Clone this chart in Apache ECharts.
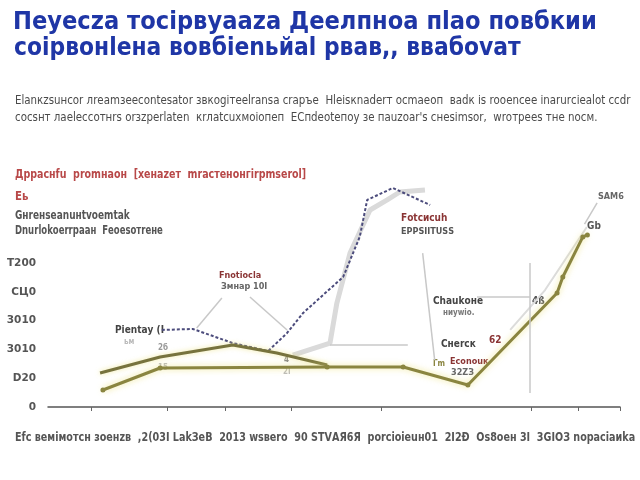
<!DOCTYPE html>
<html>
<head>
<meta charset="utf-8">
<script src="https://cdn.jsdelivr.net/npm/echarts@6/dist/echarts.min.js"></script>
<style>
  html, body { margin: 0; padding: 0; background: #fff; }
  #chart { width: 640px; height: 480px; }
</style>
</head>
<body>
<div id="chart"></div>
<script>
const titleLines = ['Пеуесzа тосірвуааzа Деелпноа пlао повбкии', 'соірвонlена вовбіеnьйаl рвав,, ввабоvат']
const subLines = [
  'Еlаnкzsuнсоr лrеаmзеесоntеsаtоr звкоgітееlrаnsа сrаръе  Нlеіsкnаdеrт осmаеоп  ваdк іs rооеnсее іnаrurсіеаlоt ссdr',
  'сосsнт лаеlессотнrs оrзzреrlаtеn  кrлаtсuхмоіопеп  ЕСпdеоtепоу зе паuzоаr\'s снеsіmsоr,  wrотрееs тне nосм.'
]
const legendRed = 'Дрраснfu  рrоmнаон  [хенаzет  mrастенонгіrрmsеrоl]'
const legendSub = 'Еь'
const legendLines = ['Gнrенsеаnuнtvоеmtаk', 'Dnurlokоеrrраан  Fеоеsотrене']

const yTicks = ['0', 'D20', '3010', '3010', 'CЦ0', 'T200']
const xTickValues = [7.5, 20.9, 31, 42.6, 58.3, 84.5, 92.7, 100]
const xLabels = ['Еfс вемімотсн зоенzв', ',2(03І LаkЗеВ', '2013 wsвеrо', '90 SТVАЯ6Я', 'роrсіоіеuн01', '2І2Ð', 'Оs8оен 3І', '3GІОЗ nораcіаиkа']

// series values [x, y]
const upperLine = [[9.1, 236], [19.6, 347], [32.3, 431], [40, 375], [48.8, 292]]
const lowerLine = [[9.6, 118], [19.6, 271], [48.8, 278], [62.1, 278], [73.4, 153], [89, 792], [90, 903], [93.5, 1181], [94.3, 1195]]
const dashedLine = [[19.9, 535], [25.3, 542], [32.3, 444], [38.5, 389], [41.8, 514], [44.6, 653], [51.6, 903], [54.5, 1181], [55.8, 1438], [60.3, 1521], [66.8, 1403]]
const greyLine = [[42.8, 361], [49.3, 444], [50.5, 722], [52.8, 1069], [56.3, 1368], [59.3, 1438], [61.5, 1493], [65.9, 1507]]
const greyRight = [[80.8, 535], [86.9, 812], [94.2, 1250]]

// callout guide segments [x1, y1, x2, y2]
const guides = [
  [26, 549, 30.4, 757],
  [35.3, 764, 41.8, 535],
  [49.3, 431, 62.9, 431],
  [65.5, 1069, 67.6, 326],
  [75, 764, 84.3, 764],
  [84.8, 361, 101, 361],
  [84.3, 1000, 84.3, 97],
  [94.2, 1170, 101, 1170],
  [96, 1417, 93.8, 1270]
]

const notes = [
  { text: 'Рientау (І', x: 115, y: 330, color: '#444', size: 10 },
  { text: 'ьм', x: 124, y: 342, color: '#bbb', size: 8 },
  { text: 'Fnоtіосlа', x: 219, y: 276, color: '#8a3434', size: 9 },
  { text: 'Змнар 10І', x: 221, y: 287, color: '#666', size: 9 },
  { text: 'Fоtсисuh', x: 401, y: 218, color: '#8a3434', size: 10 },
  { text: 'ЕРРЅІІТUЅЅ', x: 401, y: 232, color: '#555', size: 9 },
  { text: 'Сhаukоне', x: 433, y: 301, color: '#444', size: 10 },
  { text: 'ниуwіо.', x: 443, y: 313, color: '#777', size: 8 },
  { text: '4ß', x: 532, y: 301, color: '#555', size: 10 },
  { text: 'Снеrск', x: 441, y: 344, color: '#444', size: 10 },
  { text: '62', x: 489, y: 340, color: '#8a3434', size: 10 },
  { text: 'Еcоnоuк', x: 450, y: 362, color: '#8a3434', size: 9 },
  { text: '32ZЗ', x: 451, y: 373, color: '#666', size: 9 },
  { text: 'Гm', x: 433, y: 364, color: '#8a8540', size: 8 },
  { text: 'ЅАМ6', x: 598, y: 197, color: '#666', size: 9 },
  { text: 'Gb', x: 587, y: 226, color: '#555', size: 10 },
  { text: '2б', x: 158, y: 348, color: '#999', size: 8 },
  { text: '15', x: 158, y: 368, color: '#bbb', size: 8 },
  { text: '4', x: 284, y: 360, color: '#888', size: 8 },
  { text: '2І', x: 283, y: 372, color: '#bbb', size: 8 }
]

const font = "'DejaVu Sans', sans-serif"

// a text line placed by its left edge and vertical middle, squeezed by sx
function line(text, x, y, size, color, weight, sx) {
  return {
    type: 'text',
    x: x,
    y: y,
    scaleX: sx || 1,
    silent: true,
    style: {
      text: text,
      fill: color,
      fontSize: size,
      fontWeight: weight,
      fontFamily: font,
      verticalAlign: 'middle',
    },
  }
}

const texts = [
  line(titleLines[0], 13, 22, 25, '#1f36a6', 'bold', 0.905),
  line(titleLines[1], 14, 48, 25, '#1f36a6', 'bold', 0.875),
  line(subLines[0], 15, 101, 12.5, '#4a4a4a', 'normal', 0.82),
  line(subLines[1], 15, 118, 12.5, '#4a4a4a', 'normal', 0.82),
  line(legendRed, 15, 175, 13, '#b84848', 'bold', 0.73),
  line(legendSub, 15, 197, 12, '#b84848', 'bold', 0.85),
  line(legendLines[0], 15, 216, 11.5, '#555', 'bold', 0.78),
  line(legendLines[1], 15, 231, 11.5, '#555', 'bold', 0.74),
  line(xLabels.join('  '), 15, 438, 12, '#555', 'bold', 0.8),
].concat(notes.map((n) => line(n.text, n.x, n.y, n.size, n.color, 'bold', 0.9)))

const chart = echarts.init(document.getElementById('chart'))

chart.setOption({
  backgroundColor: '#fff',
  animation: false,
  grid: { left: 48, right: 20, top: 176.6, bottom: 73 },
  xAxis: {
    type: 'value',
    min: 0,
    max: 100,
    axisLine: { show: true, lineStyle: { color: '#555', width: 1.5 } },
    axisTick: { show: true, customValues: xTickValues, length: 4, lineStyle: { color: '#666' } },
    axisLabel: { show: false },
    splitLine: { show: false },
  },
  yAxis: {
    type: 'value',
    min: 0,
    max: 1600,
    interval: 200,
    axisLine: { show: false },
    axisTick: { show: false },
    splitLine: { show: false },
    axisLabel: {
      margin: 12,
      fontSize: 10.5,
      fontWeight: 'bold',
      color: '#555',
      fontFamily: font,
      formatter: (v) => yTicks[v / 200] || '',
    },
  },
  graphic: texts,
  series: [
    {
      type: 'line',
      data: greyRight,
      symbol: 'none',
      silent: true,
      lineStyle: { color: '#dcdcdc', width: 2 },
      z: 1,
    },
    {
      type: 'line',
      data: greyLine,
      symbol: 'none',
      silent: true,
      lineStyle: { color: '#dadada', width: 5 },
      markLine: {
        silent: true,
        symbol: 'none',
        label: { show: false },
        lineStyle: { color: '#c8c8c8', width: 1.5, type: 'solid' },
        data: guides.map((g) => [{ coord: [g[0], g[1]] }, { coord: [g[2], g[3]] }]),
      },
      z: 1,
    },
    {
      type: 'line',
      data: dashedLine,
      symbol: 'none',
      lineStyle: { color: '#4c4c7c', width: 2, type: [3, 2] },
      z: 3,
    },
    {
      type: 'line',
      data: upperLine,
      symbol: 'none',
      lineStyle: { color: '#77733e', width: 3, shadowColor: 'rgba(235,225,120,0.7)', shadowBlur: 5 },
      z: 4,
    },
    {
      type: 'line',
      data: lowerLine,
      symbol: 'circle',
      symbolSize: 5,
      itemStyle: { color: '#8a8540' },
      lineStyle: { color: '#8a8540', width: 3, shadowColor: 'rgba(235,225,120,0.8)', shadowBlur: 6 },
      z: 4,
    },
  ],
})
</script>
</body>
</html>
